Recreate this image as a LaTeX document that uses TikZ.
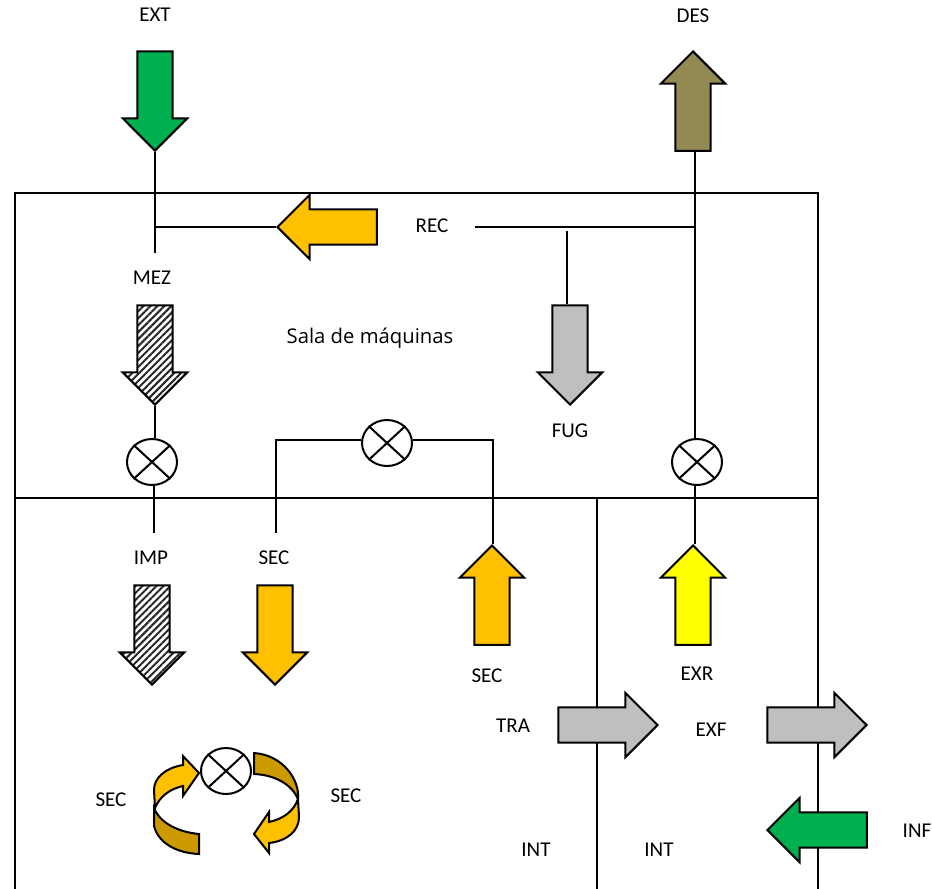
\documentclass[tikz,border=0pt]{standalone}
\usepackage{fontspec}
\setmainfont{Carlito}
\newfontfamily\salafont{Open Sans}
\usetikzlibrary{shapes.arrows,shapes.geometric,patterns.meta}
\definecolor{gverde}{HTML}{00B050}
\definecolor{gmarron}{HTML}{938953}
\definecolor{gnaranja}{HTML}{FFC000}
\definecolor{goscuro}{HTML}{CC9900}
\definecolor{ggris}{HTML}{BFBFBF}
\definecolor{gamarillo}{HTML}{FFFF00}
\tikzset{
    flecha/.style={draw=black,line width=1.5pt,single arrow,inner sep=12.4pt,minimum height=74.5pt,
        single arrow head extend=11pt,single arrow tip angle=90,anchor=tip},
    abajo/.style={flecha,shape border rotate=270},
    arriba/.style={flecha,shape border rotate=90},
    izquierda/.style={flecha,shape border rotate=180},
    derecha/.style={flecha},
    rayado/.style={pattern={Lines[angle=45,distance=3.7pt,line width=1.5pt]},pattern color=black!85},
    valvula/.style={ellipse,draw=black,line width=1.5pt,minimum width=37.5pt,minimum height=34.5pt,inner sep=0pt},
    etiqueta/.style={font=\fontsize{15.8pt}{18pt}\selectfont,inner sep=0pt}
}
\begin{document}
\begin{tikzpicture}[x=0.75pt,y=-0.75pt,line width=1.5pt]
    \useasboundingbox (0,0) rectangle (932,889);

    % walls
    \coordinate (w1) at (15,889);
    \coordinate (w2) at (15,193);
    \coordinate (w3) at (818,193);
    \coordinate (w4) at (818,889);
    \coordinate (w5) at (15,498);
    \coordinate (w6) at (818,498);
    \coordinate (w7) at (597,498);
    \coordinate (w8) at (597,889);
    \draw (w1) -- (w2) -- (w3) -- (w4);
    \draw (w5) -- (w6);
    \draw (w7) -- (w8);

    % arrows
    \node[abajo,fill=gverde] at (155,152) (ext) {};
    \node[arriba,fill=gmarron] at (693,50) (des) {};
    \node[izquierda,fill=gnaranja] at (276,227) (rec) {};
    \node[abajo,rayado] at (155,406) (mez) {};
    \node[abajo,fill=ggris] at (570,406) (fug) {};
    \node[arriba,fill=gnaranja] at (492,544) (secsube) {};
    \node[arriba,fill=gamarillo] at (693,544) (exr) {};
    \node[abajo,rayado] at (152,686) (imp) {};
    \node[abajo,fill=gnaranja] at (275,686) (secbaja) {};
    \node[derecha,fill=ggris] at (659,725) (tra) {};
    \node[derecha,fill=ggris] at (868,725) (exf) {};
    \node[izquierda,fill=gverde] at (766,830) (inf) {};

    % valves
    \node[valvula] at (152,462) (v1) {};
    \node[valvula] at (387,443) (v2) {};
    \node[valvula] at (697,462) (v3) {};
    \node[valvula] at (226,771) (v4) {};
    \foreach \v in {v1,v2,v3,v4}
    {%
    \draw (\v.north west) -- (\v.south east);
    \draw (\v.north east) -- (\v.south west);
    }%

    % labels
    \foreach \nombre/\x/\y/\texto in {lext/155/15/EXT,ldes/693/16/DES,lrec/432/226/REC,lmez/152/278/MEZ,
        lfug/570/431/FUG,limp/151/558/IMP,lsec1/274/558/SEC,lsec2/487/676/SEC,lexr/697/674/EXR,
        ltra/513/726/TRA,lexf/711/730/EXF,lsec3/111/800/SEC,lsec4/346/796/SEC,lint1/536/850/INT,
        lint2/659/850/INT,linf/917/831/INF}
        \node[etiqueta] at (\x,\y) (\nombre) {\texto};
    \node[etiqueta,font=\salafont\fontsize{15.2pt}{18pt}\selectfont] at (370,338) (sala) {Sala de máquinas};

    % connections
    \coordinate (j1) at (155,227);
    \coordinate (j2) at (155,253);
    \coordinate (j3) at (475,227);
    \coordinate (j4) at (695,227);
    \coordinate (j5) at (567,231);
    \coordinate (j6) at (154,533);
    \coordinate (j7) at (276,533);
    \coordinate (j8) at (276,440);
    \coordinate (j9) at (493,440);
    \draw (ext.tip) -- (j2);
    \draw (j1) -- (rec.tip);
    \draw (j3) -- (j4);
    \draw (j5) -- (j5 |- fug.tail);
    \draw (j4 |- des.tail) -- (j4 |- v3.north);
    \draw (j4 |- v3.south) -- (j4 |- exr.tip);
    \draw (mez.tip) -- (mez.tip |- v1.north);
    \draw (j6 |- v1.south) -- (j6);
    \draw (j7) -- (j8) -- (v2.west |- j8);
    \draw (v2.east |- j9) -- (j9) -- (j9 |- secsube.tip);

    % circulation around the room
    \draw[fill=gnaranja] (155,808) .. controls (160,796) and (170,789) .. (183,786) -- (183,796) -- (199,773)
        -- (183,756) -- (183,765) .. controls (165,768) and (154,778) .. (154,790) -- cycle;
    \draw[fill=goscuro] (154,808) .. controls (160,823) and (178,832) .. (199,834) -- (199,854)
        .. controls (175,853) and (158,842) .. (154,826) -- cycle;
    \draw[fill=goscuro] (254,753) -- (254,774) .. controls (276,775) and (292,785) .. (298,799)
        .. controls (300,780) and (283,755) .. (254,753) -- cycle;
    \draw[fill=gnaranja] (298,799) .. controls (294,811) and (283,819) .. (269,822) -- (269,812) -- (254,834)
        -- (269,853) -- (269,843) .. controls (287,841) and (299,831) .. (299,817) -- cycle;
\end{tikzpicture}
\end{document}
